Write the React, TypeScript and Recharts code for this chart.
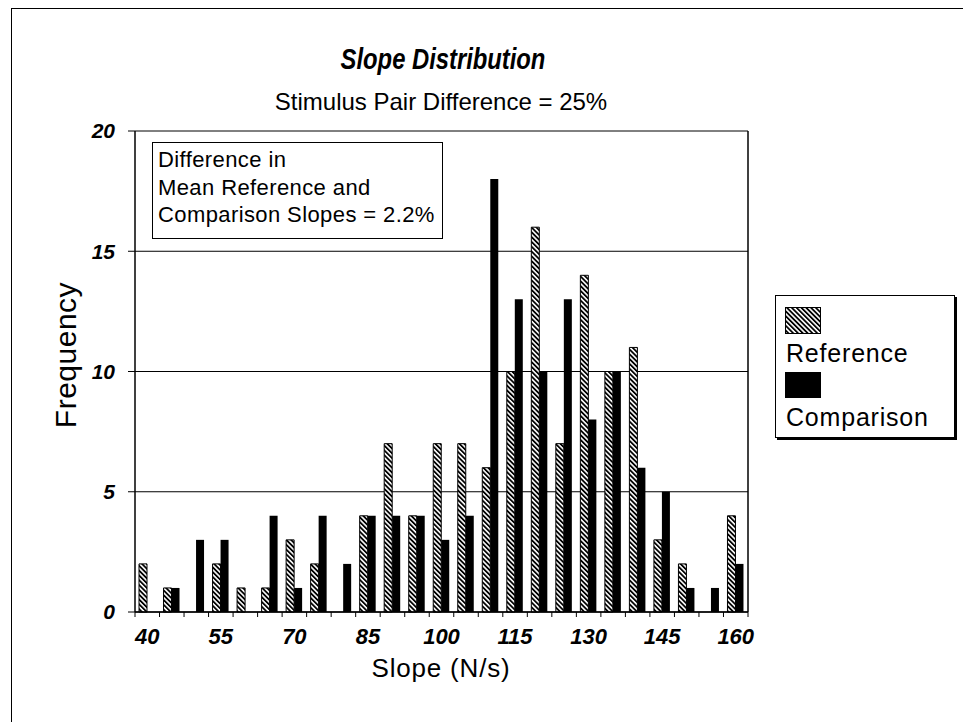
import { BarChart, Bar, XAxis, YAxis, CartesianGrid } from 'recharts';

// slope bins (N/s)
const slopes = [
  '40', '45', '50', '55', '60', '65', '70', '75', '80', '85', '90', '95', '100',
  '105', '110', '115', '120', '125', '130', '135', '140', '145', '150', '155', '160',
];
const referenceCounts = [2, 1, 0, 2, 1, 1, 3, 2, 0, 4, 7, 4, 7, 7, 6, 10, 16, 7, 14, 10, 11, 3, 2, 0, 4];
const comparisonCounts = [0, 1, 3, 3, 0, 4, 1, 4, 2, 4, 4, 4, 3, 4, 18, 13, 10, 13, 8, 10, 6, 5, 1, 1, 2];
const frequencyTicks = [0, 5, 10, 15, 20];
const noteLines = ['Difference in', 'Mean Reference and', 'Comparison Slopes = 2.2%'];

const data = slopes.map((slope, i) => ({
  slope,
  reference: referenceCounts[i],
  comparison: comparisonCounts[i],
}));

const FONT = '"Liberation Sans", Arial, Helvetica, sans-serif';

// tick mark on each bin edge, label on every third bin
function SlopeTick(props: any) {
  const { x, y, payload, index } = props;
  const half = payload && payload.offset ? payload.offset : 12.25;
  const last = index === slopes.length - 1;
  return (
    <g>
      <line x1={x - half} x2={x - half} y1={y} y2={y + 5} stroke="#000" />
      {last && <line x1={x + half} x2={x + half} y1={y} y2={y + 5} stroke="#000" />}
      {index % 3 === 0 && (
        <text
          x={x}
          y={y + 16}
          dy="0.71em"
          textAnchor="middle"
          fill="#000"
          style={{ fontSize: 22, fontWeight: 'bold', fontStyle: 'italic', fontFamily: FONT }}
        >
          {payload.value}
        </text>
      )}
    </g>
  );
}

export default function App() {
  return (
    <div style={{ position: 'absolute', left: 0, top: 0, width: 963, height: 722, background: '#fff', fontFamily: FONT, color: '#000' }}>
      <svg width={0} height={0} style={{ position: 'absolute' }}>
        <defs>
          <pattern id="hatch" width={3.4} height={3.4} patternUnits="userSpaceOnUse" patternTransform="rotate(-45)">
            <rect width={3.4} height={3.4} fill="#fff" />
            <rect width={1.8} height={3.4} fill="#000" />
          </pattern>
        </defs>
      </svg>

      {/* page frame */}
      <div style={{ position: 'absolute', left: 11, top: 8, right: 0, bottom: 0, borderTop: '1.5px solid #000', borderLeft: '1.5px solid #000' }} />

      <div style={{ position: 'absolute', left: 243, width: 400, top: 43, textAlign: 'center', fontSize: 29, fontWeight: 'bold', fontStyle: 'italic', transform: 'scaleX(0.82)' }}>
        Slope Distribution
      </div>
      <div style={{ position: 'absolute', left: 191, width: 500, top: 88, textAlign: 'center', fontSize: 24 }}>
        Stimulus Pair Difference = 25%
      </div>

      <BarChart
        width={963}
        height={722}
        data={data}
        margin={{ top: 131, right: 214, bottom: 80, left: 75 }}
        barGap={0}
        barSize={8}
        style={{ position: 'absolute', left: 0, top: 0 }}
      >
        <CartesianGrid vertical={false} stroke="#000" strokeWidth={1} />
        <XAxis
          dataKey="slope"
          interval={0}
          height={30}
          tickLine={false}
          tickSize={0}
          tickMargin={0}
          axisLine={{ stroke: '#000', strokeWidth: 1.5 }}
          tick={<SlopeTick />}
        />
        <YAxis
          domain={[0, 20]}
          ticks={frequencyTicks}
          width={60}
          tickSize={7}
          tickMargin={13}
          axisLine={{ stroke: '#000', strokeWidth: 1.5 }}
          tickLine={{ stroke: '#000' }}
          tick={{ fill: '#000', fontSize: 21, fontWeight: 'bold', fontStyle: 'italic', fontFamily: FONT }}
        />
        <YAxis
          yAxisId="frame"
          orientation="right"
          domain={[0, 20]}
          width={1}
          tick={false}
          tickLine={false}
          axisLine={{ stroke: '#000', strokeWidth: 1.5 }}
        />
        <Bar dataKey="reference" fill="url(#hatch)" stroke="#000" strokeWidth={1} isAnimationActive={false} />
        <Bar dataKey="comparison" fill="#000" isAnimationActive={false} />
      </BarChart>

      {/* note box */}
      <div style={{ position: 'absolute', left: 152, top: 142, width: 291, height: 97, border: '1px solid #000', background: '#fff', boxSizing: 'border-box', padding: '3px 0 0 5px', fontSize: 22, letterSpacing: 0.4, lineHeight: '27.5px', overflow: 'hidden' }}>
        {noteLines.map((line) => (
          <div key={line} style={{ whiteSpace: 'nowrap' }}>{line}</div>
        ))}
      </div>

      <div style={{ position: 'absolute', left: 66, top: 355, transform: 'translate(-50%, -50%) rotate(-90deg)', fontSize: 30, letterSpacing: 0.5, whiteSpace: 'nowrap' }}>
        Frequency
      </div>
      <div style={{ position: 'absolute', left: 291, width: 300, top: 653, textAlign: 'center', fontSize: 26, letterSpacing: 0.8 }}>
        Slope (N/s)
      </div>

      {/* legend */}
      <div style={{ position: 'absolute', left: 775, top: 295, width: 180, height: 143, border: '1.5px solid #000', boxShadow: '2px 2px 0 #000', boxSizing: 'border-box', background: '#fff', fontSize: 25, letterSpacing: 0.8 }}>
        <svg width={36} height={27} style={{ position: 'absolute', left: 9, top: 11 }}>
          <rect x={0.5} y={0.5} width={35} height={26} fill="url(#hatch)" stroke="#000" />
        </svg>
        <div style={{ position: 'absolute', left: 10, top: 43 }}>Reference</div>
        <div style={{ position: 'absolute', left: 9, top: 76, width: 36, height: 26, background: '#000' }} />
        <div style={{ position: 'absolute', left: 10, top: 107 }}>Comparison</div>
      </div>
    </div>
  );
}
